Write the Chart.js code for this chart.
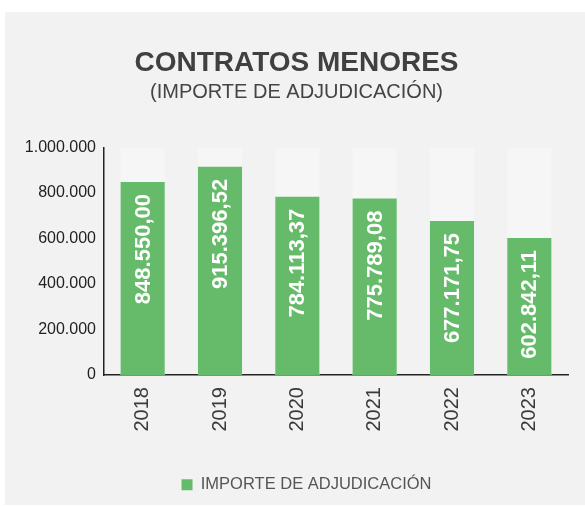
<!DOCTYPE html>
<html>
<head>
<meta charset="utf-8">
<script src="https://cdn.jsdelivr.net/npm/chart.js@4/dist/chart.umd.min.js"></script>
<style>
  html, body { margin: 0; padding: 0; background: #ffffff; }
  #wrap { position: absolute; left: 5px; top: 12px; width: 580px; height: 493px; background: #f2f2f2; }
  canvas { display: block; }
</style>
</head>
<body>
<div id="wrap"><canvas id="c" width="580" height="493"></canvas></div>
<script>
const categories = ['2018', '2019', '2020', '2021', '2022', '2023'];
const importeValues = [848550.00, 915396.52, 784113.37, 775789.08, 677171.75, 602842.11];
const backgroundValues = [1000000, 1000000, 1000000, 1000000, 1000000, 1000000];
const yTicks = [0, 200000, 400000, 600000, 800000, 1000000];
const seriesName = 'IMPORTE DE ADJUDICACIÓN';
const titleText = 'CONTRATOS MENORES';
const subtitleText = '(IMPORTE DE ADJUDICACIÓN)';

const FONT = "'Liberation Sans', Arial, Helvetica, sans-serif";

function fmtInt(n) {
  return String(Math.round(n)).replace(/\B(?=(\d{3})+(?!\d))/g, '.');
}
function fmtDec(n) {
  const parts = n.toFixed(2).split('.');
  return parts[0].replace(/\B(?=(\d{3})+(?!\d))/g, '.') + ',' + parts[1];
}

const valueLabels = {
  id: 'valueLabels',
  afterDatasetsDraw(chart) {
    const meta = chart.getDatasetMeta(0);
    const ctx = chart.ctx;
    ctx.save();
    ctx.fillStyle = '#ffffff';
    ctx.font = "bold 22px " + FONT;
    ctx.textAlign = 'right';
    ctx.textBaseline = 'middle';
    meta.data.forEach((bar, i) => {
      ctx.save();
      ctx.translate(bar.x, bar.y + 12);
      ctx.rotate(-Math.PI / 2);
      ctx.fillText(fmtDec(importeValues[i]), 0, 1);
      ctx.restore();
    });
    ctx.restore();
  }
};

const legendShift = {
  id: 'legendShift',
  afterLayout(chart) {
    if (chart.legend) {
      chart.legend.left += 10;
      chart.legend.right += 10;
    }
  }
};

new Chart(document.getElementById('c'), {
  type: 'bar',
  data: {
    labels: categories,
    datasets: [
      {
        label: seriesName,
        data: importeValues,
        backgroundColor: '#66bb6a',
        borderWidth: 0,
        grouped: false,
        order: 0,
        barPercentage: 0.57,
        categoryPercentage: 1
      },
      {
        label: 'fondo',
        data: backgroundValues,
        backgroundColor: '#f6f6f6',
        borderWidth: 0,
        grouped: false,
        order: 1,
        barPercentage: 0.57,
        categoryPercentage: 1
      }
    ]
  },
  options: {
    responsive: false,
    animation: false,
    layout: { padding: { left: 20, right: 17, top: 0, bottom: 2 } },
    plugins: {
      title: {
        display: true,
        text: titleText,
        color: '#404040',
        font: { family: FONT, size: 28, weight: 'bold' },
        padding: { top: 34, bottom: 0 }
      },
      subtitle: {
        display: true,
        text: subtitleText,
        color: '#444444',
        font: { family: FONT, size: 20, weight: 'normal' },
        padding: { top: 1, bottom: 43 }
      },
      legend: {
        position: 'bottom',
        labels: {
          filter: (item) => item.datasetIndex === 0,
          color: '#555555',
          font: { family: FONT, size: 16.5 },
          boxWidth: 11,
          boxHeight: 11,
          padding: 10
        }
      },
      tooltip: { enabled: false }
    },
    scales: {
      x: {
        grid: { display: false, drawTicks: false },
        border: { display: true, color: '#222222', width: 1.5 },
        afterFit(scale) { scale.height = scale.height + 23; },
        ticks: {
          color: '#3a3a3a',
          font: { family: FONT, size: 20 },
          minRotation: 90,
          maxRotation: 90,
          autoSkip: false,
          padding: 12
        }
      },
      y: {
        min: 0,
        max: 1000000,
        afterBuildTicks(scale) { scale.ticks = yTicks.map(v => ({ value: v })); },
        afterFit(scale) { scale.width = 79; },
        grid: { display: false, drawTicks: false },
        border: { display: true, color: '#222222', width: 1.5 },
        ticks: {
          color: '#222222',
          font: { family: FONT, size: 16 },
          padding: 8,
          callback: (v) => fmtInt(v)
        }
      }
    }
  },
  plugins: [valueLabels, legendShift]
});
</script>
</body>
</html>
